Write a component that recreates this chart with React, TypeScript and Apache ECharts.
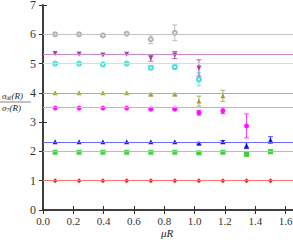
import React, { useEffect, useRef } from "react";
import * as echarts from "echarts";

const X = [0.08, 0.238, 0.395, 0.552, 0.711, 0.869, 1.028, 1.186, 1.342, 1.5];
const X_TICKS = [0, 0.2, 0.4, 0.6, 0.8, 1.0, 1.2, 1.4, 1.6];

const LEVELS = [1, 2, 7 / 3, 3.5, 4, 5, 16 / 3, 6];

const redVals = [1, 1, 1, 1, 1, 1, 1, 1, 1, 1];
const redErr = [0, 0, 0, 0, 0, 0, 0, 0, 0, 0];
const greenVals = [1.97, 1.97, 1.97, 1.97, 1.97, 1.97, 1.95, 1.97, 1.9, 1.99];
const greenErr = [0, 0, 0, 0, 0, 0, 0.03, 0.03, 0.05, 0.06];
const blueVals = [2.33, 2.33, 2.33, 2.33, 2.33, 2.33, 2.28, 2.33, 2.2, 2.39];
const blueErr = [0, 0, 0, 0, 0, 0, 0.03, 0.04, 0.1, 0.11];
const magentaVals = [3.48, 3.48, 3.48, 3.48, 3.45, 3.45, 3.32, 3.39, 2.87];
const magentaErr = [0, 0, 0, 0, 0.03, 0.03, 0.08, 0.1, 0.41];
const oliveVals = [4.0, 4.0, 4.0, 4.0, 3.95, 3.95, 3.72, 3.9];
const oliveErr = [0, 0, 0, 0, 0.03, 0.03, 0.17, 0.19];
const cyanVals = [5.0, 5.0, 4.97, 5.0, 4.86, 4.88, 4.46];
const cyanErr = [0, 0, 0, 0, 0.07, 0.07, 0.22];
const purpleVals = [5.34, 5.33, 5.29, 5.32, 5.18, 5.29, 4.85];
const purpleErr = [0, 0, 0, 0, 0.1, 0.12, 0.28];
const greyVals = [6.0, 6.0, 5.96, 6.02, 5.83, 6.05];
const greyErr = [0, 0, 0.02, 0.02, 0.15, 0.27];

const SERIES = [
  { vals: redVals, err: redErr, color: "#ff0000", line: "#ff7070", symbol: "diamond", size: 5, level: LEVELS[0] },
  { vals: greenVals, err: greenErr, color: "#33cc33", line: "#88e088", symbol: "rect", size: 5, level: LEVELS[1] },
  { vals: blueVals, err: blueErr, color: "#0000ff", line: "#6a6aff", symbol: "triangle", size: 5, level: LEVELS[2] },
  { vals: magentaVals, err: magentaErr, color: "#ff00ff", line: "#ff88ff", symbol: "circle", size: 5, level: LEVELS[3] },
  { vals: oliveVals, err: oliveErr, color: "#999933", line: "#b3b366", symbol: "triangle", size: 5, level: LEVELS[4] },
  { vals: cyanVals, err: cyanErr, color: "#33dddd", line: "#88ffff", symbol: "emptyCircle", size: 4, level: LEVELS[5] },
  { vals: purpleVals, err: purpleErr, color: "#993399", line: "#cc88cc", symbol: "path://M0,0 L10,0 L5,9 Z", size: 5, level: LEVELS[6] },
  { vals: greyVals, err: greyErr, color: "#aaaaaa", line: "#c4c4c4", symbol: "emptyCircle", size: 4, level: LEVELS[7] },
];

const FONT = "'Liberation Serif', serif";

export default function App() {
  const ref = useRef<HTMLDivElement>(null);
  useEffect(() => {
    if (!ref.current) return;
    const chart = echarts.init(ref.current, null, { renderer: "svg" });
    const series: any[] = [];
    SERIES.forEach((s) => {
      const pts = s.vals.map((v, j) => [X[j], v, s.err[j]]);
      series.push({
        type: "line",
        data: [],
        silent: true,
        z: 1,
        markLine: {
          silent: true,
          symbol: "none",
          label: { show: false },
          lineStyle: { color: s.line, width: 1.2, type: "solid" },
          data: [{ yAxis: s.level }],
        },
      });
      series.push({
        type: "custom",
        z: 2,
        data: pts,
        renderItem: (params: any, api: any) => {
          const x = api.value(0);
          const y = api.value(1);
          const e = api.value(2);
          if (!e) return null;
          const top = api.coord([x, y + e]);
          const bot = api.coord([x, y - e]);
          const st = { stroke: s.color, lineWidth: 1, opacity: 0.75 };
          return {
            type: "group",
            children: [
              { type: "line", shape: { x1: top[0], y1: top[1], x2: bot[0], y2: bot[1] }, style: st },
              { type: "line", shape: { x1: top[0] - 2.5, y1: top[1], x2: top[0] + 2.5, y2: top[1] }, style: st },
              { type: "line", shape: { x1: bot[0] - 2.5, y1: bot[1], x2: bot[0] + 2.5, y2: bot[1] }, style: st },
            ],
          };
        },
      });
      series.push({
        type: "scatter",
        z: 3,
        data: pts.map((p) => [p[0], p[1]]),
        symbol: s.symbol,
        symbolSize: s.size,
        itemStyle: {
          color: s.color,
          borderColor: s.color,
          borderWidth: s.symbol === "emptyCircle" ? 1 : 0,
          opacity: 0.9,
        },
      });
    });

    const axisLine = { show: true, lineStyle: { color: "#333", width: 1.5 } };
    chart.setOption({
      animation: false,
      textStyle: { fontFamily: FONT },
      grid: { left: 43, right: -1, top: 5, bottom: 30, containLabel: false, outerBoundsMode: "none" },
      xAxis: [
        {
          type: "value",
          min: 0,
          max: 1.655,
          position: "bottom",
          axisLine,
          splitLine: { show: false },
          axisTick: { inside: true, length: 4, customValues: X_TICKS, lineStyle: { color: "#333" } },
          axisLabel: {
            customValues: X_TICKS,
            formatter: (v: number) => v.toFixed(1),
            fontFamily: FONT,
            fontSize: 11,
            color: "#333",
            margin: 5,
          },
        },
        {
          type: "value",
          min: 0,
          max: 1.655,
          position: "top",
          axisLine,
          splitLine: { show: false },
          axisTick: { inside: true, length: 4, customValues: X_TICKS, lineStyle: { color: "#333" } },
          axisLabel: { show: false },
        },
      ],
      yAxis: [
        {
          type: "value",
          min: 0,
          max: 7,
          interval: 1,
          position: "left",
          axisLine,
          splitLine: { show: false },
          axisTick: { inside: true, length: 4, lineStyle: { color: "#333" } },
          axisLabel: { fontFamily: FONT, fontSize: 12, color: "#333", margin: 7 },
        },
        {
          type: "value",
          min: 0,
          max: 7,
          interval: 1,
          position: "right",
          axisLine,
          splitLine: { show: false },
          axisTick: { inside: true, length: 4, lineStyle: { color: "#333" } },
          axisLabel: { show: false },
        },
      ],
      graphic: [
        {
          type: "text",
          x: 167,
          y: 233,
          style: {
            text: "μR",
            fontFamily: FONT,
            fontStyle: "italic",
            fontSize: 11,
            fill: "#222",
            textAlign: "center",
            textVerticalAlign: "middle",
          },
        },
        {
          type: "text",
          left: 2,
          top: 91,
          style: {
            text: "{s|σ}{sub|ℛ}{s|(R)}",
            rich: {
              s: { fontFamily: FONT, fontStyle: "italic", fontSize: 9, fill: "#222" },
              sub: { fontFamily: FONT, fontSize: 6, fill: "#222", padding: [4, 0, 0, 0] },
            },
          },
        },
        {
          type: "line",
          shape: { x1: 0, y1: 102, x2: 31, y2: 102 },
          style: { stroke: "#333", lineWidth: 0.6 },
        },
        {
          type: "text",
          left: 2,
          top: 103,
          style: {
            text: "{s|σ}{sub|7}{s|(R)}",
            rich: {
              s: { fontFamily: FONT, fontStyle: "italic", fontSize: 9, fill: "#222" },
              sub: { fontFamily: FONT, fontSize: 6, fill: "#222", padding: [4, 0, 0, 0] },
            },
          },
        },
      ],
      series,
    });
    return () => chart.dispose();
  }, []);
  return (
    <div
      ref={ref}
      style={{ position: "fixed", left: 0, top: 0, width: 293, height: 240, background: "#fff" }}
    />
  );
}
